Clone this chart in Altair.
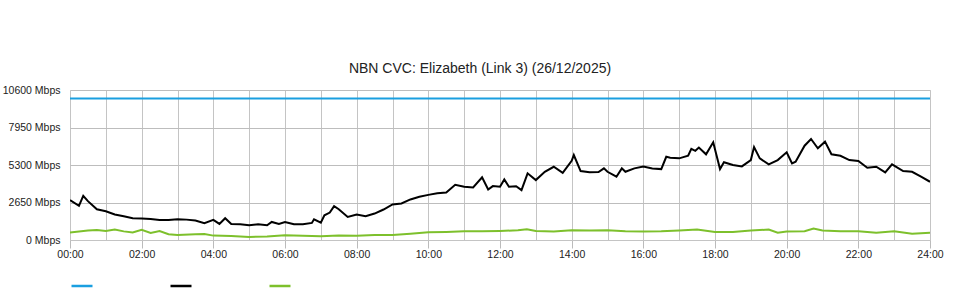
import altair as alt
import pandas as pd

# Series names (legend labels are hidden in the reference)
series_names = ["Capacity", "Download", "Upload"]
series_colors = ["#1a9fe0", "#000000", "#7dc02c"]

# Capacity line (Mbps)
cap_hours = [0, 24]
cap_values = [10000, 10000]

# Download (black) – hours of day and Mbps
dl_hours = [0.0, 0.25, 0.37, 0.5, 0.75, 1.0, 1.25, 1.5, 1.75, 2.0, 2.25, 2.5, 2.75, 3.0, 3.25, 3.5, 3.75,
            4.0, 4.17, 4.33, 4.5, 4.75, 5.0, 5.25, 5.5, 5.63, 5.83, 6.0, 6.25, 6.5, 6.75, 6.81, 7.0, 7.1,
            7.25, 7.37, 7.5, 7.75, 8.0, 8.25, 8.5, 8.75, 9.0, 9.25, 9.5, 9.75, 10.0, 10.25, 10.5, 10.75,
            11.0, 11.25, 11.5, 11.67, 11.8, 12.0, 12.12, 12.25, 12.45, 12.6, 12.77, 13.0, 13.25, 13.5,
            13.75, 14.0, 14.06, 14.25, 14.5, 14.75, 14.9, 15.0, 15.25, 15.4, 15.5, 15.75, 16.0, 16.25,
            16.5, 16.64, 16.75, 17.0, 17.25, 17.34, 17.45, 17.55, 17.75, 17.95, 18.14, 18.25, 18.5, 18.75,
            19.0, 19.09, 19.25, 19.5, 19.75, 20.0, 20.15, 20.25, 20.5, 20.68, 20.87, 21.07, 21.25, 21.5,
            21.75, 22.0, 22.25, 22.5, 22.75, 22.94, 23.25, 23.5, 23.75, 24.0]
dl_values = [2815, 2410, 3120, 2745, 2175, 2035, 1800, 1680, 1540, 1515, 1490, 1420, 1420, 1465, 1440, 1375, 1185,
             1420, 1135, 1540, 1135, 1110, 1040, 1110, 1040, 1275, 1135, 1275, 1110, 1110, 1205, 1465, 1230, 1750,
             1940, 2390, 2175, 1630, 1800, 1680, 1870, 2155, 2510, 2580, 2865, 3050, 3190, 3310, 3360, 3900,
             3760, 3710, 4425, 3570, 3810, 3760, 4280, 3760, 3800, 3525, 4710, 4235, 4820, 5175,
             4750, 5600, 6005, 4870, 4780, 4800, 5060, 4820, 4470, 5060, 4820, 5060, 5200, 5060,
             5010, 5880, 5815, 5770, 5955, 6440, 6300, 6530, 6055, 6905, 5010, 5490, 5295, 5200,
             5650, 6570, 5770, 5345, 5650, 6200, 5415, 5530, 6665, 7140, 6480, 6950, 6055, 5955,
             5650, 5580, 5105, 5175, 4780, 5345, 4870, 4820, 4470, 4115]

# Upload (green)
ul_hours = [0.0, 0.5, 0.75, 1.0, 1.25, 1.5, 1.75, 2.0, 2.25, 2.5, 2.75, 3.0, 3.5, 3.75, 4.0, 4.5, 5.0, 5.5,
            6.0, 6.5, 7.0, 7.5, 8.0, 8.5, 9.0, 9.5, 10.0, 10.5, 11.0, 11.5, 12.0, 12.5, 12.75, 13.0, 13.5,
            14.0, 14.5, 15.0, 15.5, 16.0, 16.5, 17.0, 17.5, 18.0, 18.5, 19.0, 19.5, 19.75, 20.0, 20.5,
            20.75, 21.0, 21.5, 22.0, 22.5, 23.0, 23.5, 24.0]
ul_values = [525, 665, 710, 640, 735, 610, 525, 720, 500, 640, 405, 355, 405, 430, 310, 285, 215, 240,
             335, 300, 260, 310, 300, 360, 360, 450, 545, 570, 615, 615, 640, 690, 760, 640, 595,
             690, 665, 690, 620, 600, 617, 665, 735, 570, 570, 665, 735, 520, 600, 617,
             808, 665, 617, 617, 520, 617, 450, 520]

title_text = "NBN CVC: Elizabeth (Link 3) (26/12/2025)"
y_ticks = [0, 2650, 5300, 7950, 10600]
x_hours = list(range(0, 25))

rows = []
for h, v in zip(cap_hours, cap_values):
    rows.append({"series": series_names[0], "hour": h, "value": v})
for h, v in zip(dl_hours, dl_values):
    rows.append({"series": series_names[1], "hour": h, "value": v})
for h, v in zip(ul_hours, ul_values):
    rows.append({"series": series_names[2], "hour": h, "value": v})
df = pd.DataFrame(rows)

FONT = "Liberation Sans"

chart = alt.Chart(df).mark_line(strokeWidth=2, clip=True).encode(
    x=alt.X("hour:Q",
            scale=alt.Scale(domain=[0, 24], nice=False, zero=False),
            axis=alt.Axis(
                title=None,
                values=x_hours,
                labelExpr="datum.value % 2 == 0 ? (datum.value < 10 ? '0' : '') + datum.value + ':00' : ''",
                tickOpacity={"condition": {"test": "datum.value % 2 == 0", "value": 1}, "value": 0},
                tickSize=8,
                tickColor="#bbbbbb",
                domainColor="#c4c4c4",
                gridColor="#c4c4c4",
                gridWidth=1,
                labelFont=FONT,
                labelFontSize=10.5,
                labelColor="#222222",
                labelPadding=1,
                labelFlush=False,
                labelOverlap=False,
            )),
    y=alt.Y("value:Q",
            scale=alt.Scale(domain=[0, 10600], nice=False),
            axis=alt.Axis(
                title=None,
                values=y_ticks,
                labelExpr="datum.value + ' Mbps'",
                ticks=False,
                domain=False,
                gridColor="#bdbdbd",
                gridWidth=1,
                labelFont=FONT,
                labelFontSize=10.5,
                labelColor="#222222",
                labelPadding=10,
            )),
    color=alt.Color("series:N",
                    scale=alt.Scale(domain=series_names, range=series_colors),
                    legend=alt.Legend(
                        title=None,
                        orient="none",
                        legendX=0,
                        legendY=184,
                        direction="horizontal",
                        symbolType="stroke",
                        symbolSize=441,
                        symbolStrokeWidth=2.5,
                        labelExpr="''",
                        labelOffset=0,
                        columnPadding=67,
                        padding=0,
                    )),
).properties(
    width=860,
    height=150,
    title=alt.TitleParams(title_text, font=FONT, fontSize=14, fontWeight="normal",
                          color="#222222", anchor="middle", dx=-20, offset=9),
    autosize=alt.AutoSizeParams(type="none"),
    padding={"left": 70, "top": 90, "right": 30, "bottom": 60},
).configure_view(
    stroke="#c4c4c4", strokeWidth=1
).configure(background="white")

chart.save("out.html", embed_options={"renderer": "svg", "actions": False})
